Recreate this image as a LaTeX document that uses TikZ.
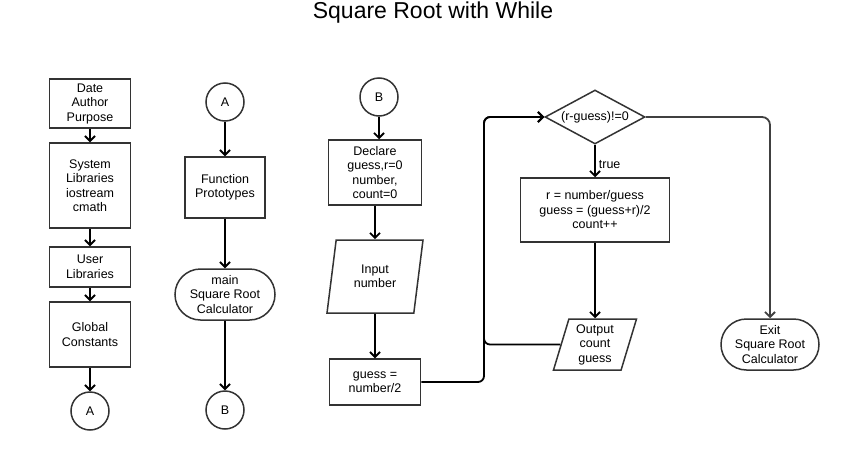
\documentclass[tikz,border=0pt]{standalone}
\usepackage{fontspec}
\setmainfont{Liberation Sans}
\usetikzlibrary{shapes.geometric,shapes.misc,arrows.meta}

\begin{document}
\begin{tikzpicture}[x=1pt,y=-1pt,
    font=\fontsize{12.5}{14.5}\selectfont,
    every node/.style={align=center,inner sep=2pt},
    box/.style={rectangle,draw=black!80,line width=1.5pt},
    conn/.style={circle,draw=black!80,line width=1.5pt,minimum size=38,inner sep=0pt},
    term/.style={rounded rectangle,draw=black!80,line width=1.5pt,inner sep=1pt},
    io/.style={trapezium,trapezium left angle=70,trapezium right angle=110,
      trapezium stretches body,draw=black!80,line width=1.5pt,inner sep=1pt},
    decision/.style={diamond,aspect=1.85,draw=black!80,line width=1.5pt,
      inner sep=1pt,minimum width=100,minimum height=54},
    flow/.style={line width=1.8pt,-{Straight Barb[length=5pt,width=10pt]}}]
  \useasboundingbox (0,0) rectangle (846,450);
  \node[font=\fontsize{23}{26}\selectfont] (title) at (433,13) {Square Root with While};

  % header column
  \node[box,minimum width=81,minimum height=49] (info) at (90,103.5) {Date\\Author\\Purpose};
  \node[box,minimum width=81,minimum height=85] (syslib) at (90,185.5) {System\\Libraries\\iostream\\cmath};
  \node[box,minimum width=81,minimum height=40] (userlib) at (90,267) {User\\Libraries};
  \node[box,minimum width=81,minimum height=65] (globals) at (90,334.5) {Global\\Constants};
  \node[conn] (conA1) at (90,411) {A};

  % prototypes and main
  \node[conn] (conA2) at (225,102) {A};
  \node[box,minimum width=80,minimum height=61] (proto) at (225,187.5) {Function\\Prototypes};
  \node[term,minimum width=102,minimum height=51] (main) at (225,294.5) {main\\Square Root\\Calculator};
  \node[conn] (conB1) at (225,410) {B};

  % input part
  \node[conn] (conB2) at (379,97) {B};
  \node[box,minimum width=93,minimum height=65] (declare) at (375,172.5) {Declare\\guess,r=0\\number,\\count=0};
  \node[io,minimum width=96,minimum height=73] (input) at (375,276.5) {Input\\number};
  \node[box,minimum width=91,minimum height=46] (guessinit) at (375,382) {guess =\\number/2};

  % while loop
  \node[decision] (test) at (595,117) {(r-guess)!=0};
  \node[box,minimum width=149,minimum height=64] (update) at (595,210) {r = number/guess\\guess = (guess+r)/2\\count++};
  \node[io,minimum width=83,minimum height=51] (output) at (595,344.5) {Output\\count\\guess};
  \node[term,minimum width=100,minimum height=51] (exit) at (770,344.5) {Exit\\Square Root\\Calculator};
  \coordinate (loop) at (484,117);

  \begin{scope}[flow]
    \draw (info) -- (syslib);
    \draw (syslib) -- (userlib);
    \draw (userlib) -- (globals);
    \draw (globals) -- (conA1);
    \draw (conA2) -- (proto);
    \draw (proto) -- (main);
    \draw (main) -- (conB1);
    \draw (conB2) -- (conB2 |- declare.north);
    \draw (declare) -- (input);
    \draw (input) -- (guessinit);
    \draw[rounded corners=6pt] (guessinit.east) -| (loop) -- (test.west);
    \draw[rounded corners=6pt] (output.west) -| (loop) -- (test.west);
    \draw (test) -- node[right,pos=0.6,inner sep=3pt]{true} (update);
    \draw (update) -- (output);
    \draw[rounded corners=8pt,draw=black!75] (test.east) -| (exit.north);
  \end{scope}
\end{tikzpicture}
\end{document}
